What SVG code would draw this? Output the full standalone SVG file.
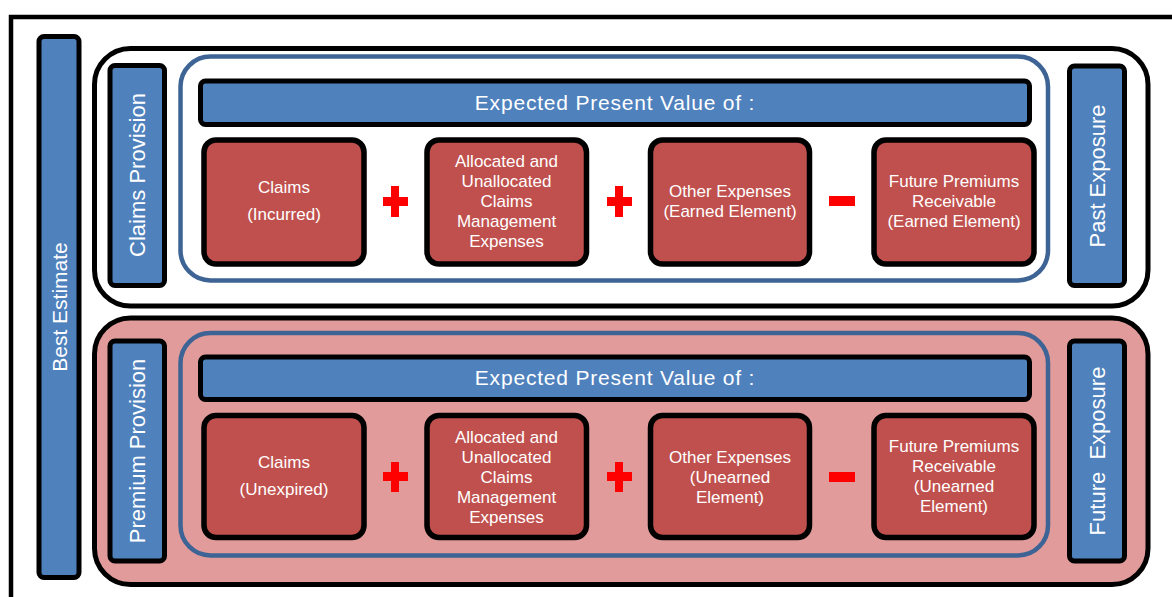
<svg xmlns="http://www.w3.org/2000/svg" width="1172" height="597" viewBox="0 0 1172 597">
<style>
.frame{fill:#FFFFFF;stroke:#000;stroke-width:4.5}
.grp{stroke:#000;stroke-width:5}
.inner{fill:none;stroke:#3D6494;stroke-width:4.5}
.bar{fill:#4F81BD;stroke:#000;stroke-width:5}
.box{fill:#C0504D;stroke:#000;stroke-width:5.5}
.op{fill:#FF0000}
text{font-family:"Liberation Sans",Arial,sans-serif;fill:#FFFFFF}
.t{font-size:17px;text-anchor:middle}
.h{font-size:21px;text-anchor:middle;letter-spacing:0.8px}
.v{font-size:22px;text-anchor:middle;white-space:pre}
</style>
<rect width="1172" height="597" fill="#FFFFFF"/>
<rect class="frame" x="11" y="17" width="1200" height="700"/>

<g id="best-estimate">
<rect class="bar" x="39" y="36.5" width="40" height="541" rx="5"/>
<text class="v" transform="translate(67,307) rotate(-90)" style="font-size:21px">Best Estimate</text>
</g>

<g id="claims-group">
<rect class="grp" x="94.5" y="48.5" width="1053.5" height="257.5" rx="36" fill="#FFFFFF"/>
<rect class="inner" x="180.5" y="56.5" width="867.5" height="224" rx="30"/>
</g>
<g id="claims-provision">
<rect class="bar" x="110" y="65.5" width="54.5" height="220" rx="5"/>
<text class="v" transform="translate(145,175) rotate(-90)">Claims Provision</text>
</g>
<g id="past-exposure">
<rect class="bar" x="1069.5" y="66" width="55" height="219.5" rx="5"/>
<text class="v" transform="translate(1105,176) rotate(-90)">Past Exposure</text>
</g>
<g id="header-1">
<rect class="bar" x="200.5" y="81" width="829" height="43.5" rx="5"/>
<text class="h" x="615" y="109.5">Expected Present Value of :</text>
</g>
<g id="claims-incurred">
<rect class="box" x="204" y="140" width="160" height="124" rx="12"/>
<text class="t" x="284" y="193">Claims</text>
<text class="t" x="284" y="220">(Incurred)</text>
</g>
<g id="aucme-1">
<rect class="box" x="427" y="140" width="159.5" height="124" rx="12"/>
<text class="t" x="506.5" y="167">Allocated and</text>
<text class="t" x="506.5" y="187">Unallocated</text>
<text class="t" x="506.5" y="207">Claims</text>
<text class="t" x="506.5" y="227">Management</text>
<text class="t" x="506.5" y="247">Expenses</text>
</g>
<g id="other-earned">
<rect class="box" x="650.5" y="140" width="159" height="124" rx="12"/>
<text class="t" x="730" y="197">Other Expenses</text>
<text class="t" x="730" y="217">(Earned Element)</text>
</g>
<g id="fpr-earned">
<rect class="box" x="874" y="140" width="160" height="124" rx="12"/>
<text class="t" x="954" y="187">Future Premiums</text>
<text class="t" x="954" y="207">Receivable</text>
<text class="t" x="954" y="227">(Earned Element)</text>
</g>

<g id="premium-group">
<rect class="grp" x="94.5" y="318" width="1053.5" height="266.5" rx="36" fill="#E29B9B"/>
<rect class="inner" x="180.5" y="333" width="867.5" height="222.5" rx="30"/>
</g>
<g id="premium-provision">
<rect class="bar" x="110" y="341" width="54.5" height="220" rx="5"/>
<text class="v" transform="translate(145,451) rotate(-90)">Premium Provision</text>
</g>
<g id="future-exposure">
<rect class="bar" x="1069.5" y="341" width="55" height="220" rx="5"/>
<text class="v" transform="translate(1105,451) rotate(-90)">Future  Exposure</text>
</g>
<g id="header-2">
<rect class="bar" x="200.5" y="357" width="829" height="42.5" rx="5"/>
<text class="h" x="615" y="385">Expected Present Value of :</text>
</g>
<g id="claims-unexpired">
<rect class="box" x="204" y="415.5" width="160" height="122" rx="12"/>
<text class="t" x="284" y="468">Claims</text>
<text class="t" x="284" y="495">(Unexpired)</text>
</g>
<g id="aucme-2">
<rect class="box" x="427" y="415.5" width="159.5" height="122" rx="12"/>
<text class="t" x="506.5" y="443">Allocated and</text>
<text class="t" x="506.5" y="463">Unallocated</text>
<text class="t" x="506.5" y="483">Claims</text>
<text class="t" x="506.5" y="503">Management</text>
<text class="t" x="506.5" y="523">Expenses</text>
</g>
<g id="other-unearned">
<rect class="box" x="650.5" y="415.5" width="159" height="122" rx="12"/>
<text class="t" x="730" y="463">Other Expenses</text>
<text class="t" x="730" y="483">(Unearned</text>
<text class="t" x="730" y="503">Element)</text>
</g>
<g id="fpr-unearned">
<rect class="box" x="874" y="415.5" width="160" height="122" rx="12"/>
<text class="t" x="954" y="452">Future Premiums</text>
<text class="t" x="954" y="472">Receivable</text>
<text class="t" x="954" y="492">(Unearned</text>
<text class="t" x="954" y="512">Element)</text>
</g>

<g id="connectors">
<path class="op" d="M391,186h8v11h9v9h-9v11h-8v-11h-8v-9h8z"/>
<path class="op" d="M615,186h8v11h9v9h-9v11h-8v-11h-8v-9h8z"/>
<rect class="op" x="829" y="196" width="26" height="10"/>
<path class="op" d="M391,462h8v10h9v9h-9v11h-8v-11h-8v-9h8z"/>
<path class="op" d="M615,462h8v10h9v9h-9v11h-8v-11h-8v-9h8z"/>
<rect class="op" x="829" y="472" width="26" height="10"/>
</g>
</svg>
